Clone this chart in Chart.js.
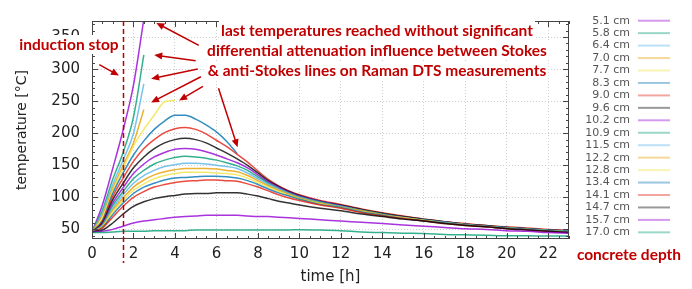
<!DOCTYPE html>
<html>
<head>
<meta charset="utf-8">
<script src="https://cdn.jsdelivr.net/npm/chart.js@4.4.1/dist/chart.umd.min.js"></script>
<style>
  body { margin: 0; background: #fff; }
  canvas { display: block; }
</style>
</head>
<body>
<canvas id="chart" width="692" height="289"></canvas>
<script>
// time axis of the measurements [h]
const times = [0, 0.5, 1, 1.5, 2, 2.5, 3, 3.5, 4, 4.5, 5, 5.5, 6, 6.5, 7, 7.5, 8, 8.5, 9, 9.5, 10,
               11, 12, 13, 14, 15, 16, 17, 18, 19, 20, 21, 22, 23]

const depths = ['5.1 cm', '5.8 cm', '6.4 cm', '7.0 cm', '7.7 cm', '8.3 cm', '9.0 cm', '9.6 cm', '10.2 cm',
                '10.9 cm', '11.5 cm', '12.2 cm', '12.8 cm', '13.4 cm', '14.1 cm', '14.7 cm', '15.7 cm', '17.0 cm']

const t51  = [46, 88, 145, 205, 275, 378]
const t58  = [46, 80, 128, 170, 225, 322]
const t64  = [46, 76, 120, 158, 200, 277]
const t70  = [46, 72, 114, 150, 185, 237]
const t77  = [46, 68, 110, 145, 180, 206, 228, 249, 251]
const t83  = [46, 64, 106, 138, 166, 188, 206, 219, 228, 228, 222, 213, 202, 187, 168]
const t90  = [46, 62, 101, 130, 156, 176, 190, 201, 207, 209, 206, 199, 189, 179, 167, 155, 141, 128, 118, 110, 104,
              95, 89, 82, 76, 71, 66, 62, 59, 56, 54, 52, 50, 48]
const t96  = [46, 60, 96, 122, 146, 163, 176, 185, 190, 192, 190, 185, 177, 169, 160, 150, 138, 126, 117, 109, 103,
              94, 88, 81, 75, 70, 66, 62, 58, 56, 53, 51, 49, 48]
const t102 = [46, 58, 91, 115, 137, 152, 163, 170, 175, 176, 175, 171, 166, 160, 154, 146, 135, 124, 116, 108, 102,
              94, 87, 80, 74, 69, 65, 61, 58, 55, 53, 51, 49, 47]
const t109 = [46, 57, 87, 109, 129, 142, 152, 158, 162, 164, 163, 161, 158, 154, 149, 142, 132, 122, 114, 107, 101,
              93, 86, 80, 74, 69, 65, 61, 58, 55, 53, 51, 49, 47]
const t115 = [46, 56, 83, 104, 122, 134, 142, 148, 151, 153, 153, 152, 150, 148, 145, 138, 129, 120, 113, 106, 100,
              92, 86, 79, 73, 68, 64, 61, 57, 55, 52, 50, 48, 47]
const t122 = [46, 55, 80, 99, 116, 127, 135, 140, 143, 145, 145, 145, 144, 142, 140, 134, 126, 118, 111, 105, 99,
              91, 85, 79, 73, 68, 64, 60, 57, 54, 52, 50, 48, 46]
const t128 = [46, 54, 77, 95, 111, 121, 129, 134, 137, 139, 139, 139, 138, 137, 135, 130, 123, 116, 109, 103, 98,
              90, 84, 78, 72, 68, 64, 60, 57, 54, 52, 50, 48, 46]
const t134 = [46, 53, 73, 91, 106, 116, 122, 127, 130, 131, 132, 133, 133, 132, 130, 126, 120, 113, 107, 102, 97,
              89, 84, 77, 72, 67, 63, 60, 57, 54, 52, 50, 48, 46]
const t141 = [46, 52, 69, 86, 100, 109, 116, 120, 123, 125, 126, 127, 127, 126, 125, 121, 116, 110, 104, 99, 95,
              88, 83, 76, 71, 67, 63, 59, 56, 54, 51, 49, 47, 45]
const t147 = [46, 49, 60, 74, 86, 93, 98, 101, 103, 105, 106, 106, 107, 107, 107, 105, 102, 98, 94, 91, 88,
              83, 79, 74, 70, 66, 63, 59, 56, 54, 51, 49, 47, 45]
const t157 = [46, 47, 50, 55, 60, 63, 65, 67, 69, 70, 71, 72, 72, 72, 72, 71, 70, 70, 69, 68, 67,
              65, 63, 61, 59, 57, 55, 53, 51, 50, 48, 47, 45, 44]
const t170 = [45, 45, 46, 47, 47, 47, 48, 48, 48, 48, 49, 49, 49, 49, 49, 49, 49, 49, 49, 49, 49.5,
              49, 48, 46, 45, 44, 43.5, 42, 41.5, 41, 40, 40, 39.5, 39.5]

const series = [t51, t58, t64, t70, t77, t83, t90, t96, t102, t109, t115, t122, t128, t134, t141, t147, t157, t170]

const xTicks = [0, 2, 4, 6, 8, 10, 12, 14, 16, 18, 20, 22]
const yTicks = [50, 100, 150, 200, 250, 300, 350]

const inductionStop = 1.5   // h

// gnuplot default line colours, cycling
const palette = [[148, 0, 211], [0, 158, 115], [86, 180, 233], [230, 159, 0],
                 [240, 228, 66], [0, 114, 178], [229, 30, 16], [0, 0, 0]]

// arrows of the annotation, [from time, from temp, to time, to temp]
const arrows = [
  [0.35, 307, 1.3, 290],
  [5.15, 337, 3.1, 372],
  [5.0, 313, 3.0, 322],
  [5.1, 300, 2.85, 285],
  [5.25, 288, 2.85, 248],
  [5.35, 273, 4.2, 251],
  [6.1, 270, 7.02, 178]
]
const noteLines = ['last temperatures reached without significant',
                   'differential attenuation influence between Stokes',
                   '& anti-Stokes lines on Raman DTS measurements']

const red = '#c00000'
Chart.defaults.font.family = "'DejaVu Sans', sans-serif"

function rgba(c, a) { return `rgba(${c[0]},${c[1]},${c[2]},${a})` }

const datasets = series.map((vals, i) => {
  const c = palette[i % palette.length]
  return {
    label: depths[i],
    data: vals.map((v, k) => ({x: times[k], y: v})),
    borderColor: rgba(c, 0.8),
    legendColor: rgba(c, 0.4),
    borderWidth: 1.5,
    pointRadius: 0,
    cubicInterpolationMode: 'monotone',
    order: series.length - i
  }
})

function arrow(ctx, x1, y1, x2, y2) {
  const ang = Math.atan2(y2 - y1, x2 - x1)
  ctx.beginPath()
  ctx.moveTo(x1, y1)
  ctx.lineTo(x2 - 5 * Math.cos(ang), y2 - 5 * Math.sin(ang))
  ctx.stroke()
  ctx.beginPath()
  ctx.moveTo(x2, y2)
  ctx.lineTo(x2 - 8 * Math.cos(ang) + 3.5 * Math.sin(ang), y2 - 8 * Math.sin(ang) - 3.5 * Math.cos(ang))
  ctx.lineTo(x2 - 8 * Math.cos(ang) - 3.5 * Math.sin(ang), y2 - 8 * Math.sin(ang) + 3.5 * Math.cos(ang))
  ctx.closePath()
  ctx.fill()
}

const extras = {
  id: 'extras',
  afterDatasetsDraw(chart) {
    const {ctx, chartArea: a, scales: {x, y}} = chart
    ctx.save()

    // frame + inward ticks like gnuplot
    ctx.strokeStyle = '#444'
    ctx.lineWidth = 1
    ctx.strokeRect(a.left + 0.5, a.top + 0.5, a.right - a.left - 1, a.bottom - a.top - 1)
    ctx.beginPath()
    for (let v = 0; v <= x.max; v += 0.5) {
      const len = v % 2 === 0 ? 6 : 3
      const px = Math.round(x.getPixelForValue(v)) + 0.5
      ctx.moveTo(px, a.bottom); ctx.lineTo(px, a.bottom - len)
      ctx.moveTo(px, a.top); ctx.lineTo(px, a.top + len)
    }
    for (let v = 40; v <= y.max; v += 10) {
      const len = v % 50 === 0 ? 6 : 3
      const py = Math.round(y.getPixelForValue(v)) + 0.5
      ctx.moveTo(a.left, py); ctx.lineTo(a.left + len, py)
      ctx.moveTo(a.right, py); ctx.lineTo(a.right - len, py)
    }
    ctx.stroke()

    // induction stop marker
    const sx = Math.round(x.getPixelForValue(inductionStop)) + 0.5
    ctx.strokeStyle = red
    ctx.lineWidth = 1.5
    ctx.setLineDash([5, 3])
    ctx.beginPath()
    ctx.moveTo(sx, a.top)
    ctx.lineTo(sx, a.bottom + 24)
    ctx.stroke()
    ctx.setLineDash([])

    // arrows
    ctx.lineWidth = 1.5
    ctx.fillStyle = red
    arrows.forEach(ar => {
      arrow(ctx, x.getPixelForValue(ar[0]), y.getPixelForValue(ar[1]),
                 x.getPixelForValue(ar[2]), y.getPixelForValue(ar[3]))
    })

    // texts
    ctx.font = "bold 15.5px Lato"
    ctx.textAlign = 'center'
    ctx.textBaseline = 'middle'
    ctx.fillStyle = '#fff'
    ctx.fillRect(16, 35, 104, 19)
    ctx.fillStyle = red
    ctx.fillText('induction stop', 69, 45)
    noteLines.forEach((s, i) => {
      const w = ctx.measureText(s).width
      ctx.fillStyle = '#fff'
      ctx.fillRect(377 - w / 2 - 2, 21 + i * 20, w + 4, 19)
      ctx.fillStyle = red
      ctx.fillText(s, 377, 31 + i * 20)
    })
    ctx.fillText('concrete depth', 629, 255)

    // legend: label then line sample
    ctx.font = "11px 'DejaVu Sans'"
    ctx.textAlign = 'right'
    chart.data.datasets.forEach((ds, i) => {
      const ly = 20.7 + i * 12.45
      ctx.fillStyle = '#555'
      ctx.fillText(ds.label, 630, ly)
      ctx.strokeStyle = ds.legendColor
      ctx.lineWidth = 2
      ctx.beginPath()
      ctx.moveTo(638, ly)
      ctx.lineTo(670, ly)
      ctx.stroke()
    })
    ctx.restore()
  }
}

new Chart(document.getElementById('chart'), {
  type: 'line',
  data: {datasets: datasets},
  plugins: [extras],
  options: {
    responsive: false,
    animation: false,
    layout: {padding: {left: 0, right: 123, top: 11, bottom: 0}},
    plugins: {legend: {display: false}, tooltip: {enabled: false}},
    scales: {
      x: {
        type: 'linear', min: 0, max: 23,
        afterBuildTicks: s => { s.ticks = xTicks.map(v => ({value: v})) },
        afterFit: s => { s.height = 50 },
        grid: {color: '#cfcfcf', drawTicks: false},
        border: {display: false, dash: [1, 2]},
        ticks: {color: '#222', font: {size: 15}, padding: 6, maxRotation: 0},
        title: {display: true, text: 'time [h]', color: '#222', font: {size: 15}, padding: {top: 0, bottom: 3}}
      },
      y: {
        min: 35, max: 375,
        afterBuildTicks: s => { s.ticks = yTicks.map(v => ({value: v})) },
        afterFit: s => { s.width = 92 },
        grid: {color: '#cfcfcf', drawTicks: false},
        border: {display: false, dash: [1, 2]},
        ticks: {color: '#222', font: {size: 15}, padding: 12},
        title: {display: true, text: 'temperature [°C]', color: '#222', font: {size: 14}, padding: {top: 14, bottom: 0}}
      }
    }
  }
})
</script>
</body>
</html>
